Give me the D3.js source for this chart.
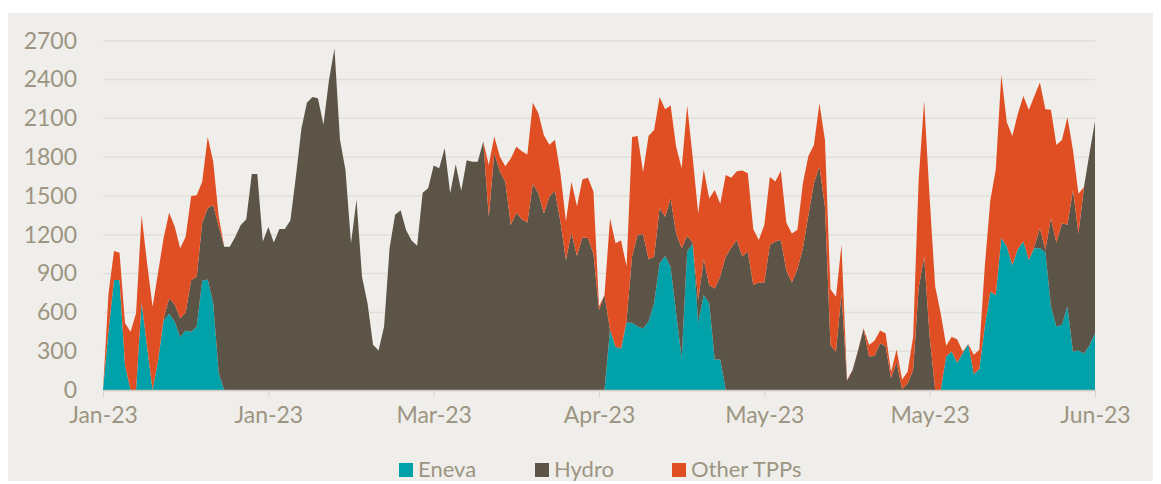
<!DOCTYPE html>
<html>
<head>
<meta charset="utf-8">
<script src="https://cdn.jsdelivr.net/npm/d3@7"></script>
<style>
  html, body { margin: 0; padding: 0; background: #ffffff; }
  svg text { font-family: Lato, "Open Sans", sans-serif; }
</style>
</head>
<body>
<div id="chart"></div>
<script>
// daily values, 1 Jan 2023 .. 30 Jun 2023
var startDate = new Date(2023, 0, 1);

var eneva = [
  0, 460, 850, 850, 190, 0, 0, 680, 335, 0, 230, 535, 590, 530, 410, 460, 450, 490, 845, 855, 670, 130,
  0, 0, 0, 0, 0, 0, 0, 0, 0, 0, 0, 0, 0, 0, 0, 0, 0, 0, 0, 0, 0, 0, 0, 0, 0, 0, 0, 0, 0, 0, 0, 0, 0, 0, 0,
  0, 0, 0, 0, 0, 0, 0, 0, 0, 0, 0, 0, 0, 0, 0, 0, 0, 0, 0, 0, 0, 0, 0, 0, 0, 0, 0, 0, 0, 0, 0, 0, 0, 0, 0,
  465, 335, 320, 520, 520, 490, 475, 530, 670, 980, 1035, 950, 595, 245, 1070, 1130, 520, 735, 670, 235, 235,
  0, 0, 0, 0, 0, 0, 0, 0, 0, 0, 0, 0, 0, 0, 0, 0, 0, 0, 0, 0, 0, 0, 0, 0, 0, 0, 0, 0, 0, 0, 0, 0, 0, 0, 0, 0, 0, 0, 0, 0,
  260, 295, 210, 285, 355, 125, 160, 490, 760, 735, 1175, 1110, 965, 1090, 1147, 1005, 1095, 1095, 1065, 645,
  490, 505, 645, 296, 305, 280, 345, 438
];

var hydro = [
  0, 0, 0, 0, 0, 0, 0, 0, 0, 0, 0,
  20, 120, 130, 145, 140, 400, 385, 445, 550, 760, 1135, 1108, 1108, 1185, 1276, 1319, 1670, 1670, 1147, 1260,
  1140, 1245, 1245, 1310, 1650, 2020, 2220, 2265, 2255, 2050, 2395, 2640, 1935, 1700, 1135, 1470, 875, 670, 350, 305,
  490, 1095, 1355, 1390, 1235, 1155, 1115, 1525, 1560, 1735, 1715, 1870, 1520, 1745, 1540, 1775, 1765, 1765, 1920, 1340,
  1830, 1690, 1610, 1275, 1370, 1320, 1295, 1595, 1520, 1365, 1495, 1540, 1300, 1005, 1215, 1035, 1180, 1175, 1050, 618,
  734,
  0, 0, 0, 20, 511, 708, 730, 480, 360, 425, 305, 530, 615, 850, 120, 10, 175, 275, 140, 550, 645,
  1031, 1100, 1160, 1031, 1070, 812, 830, 830, 1121, 1147, 1160, 922, 830, 933, 1095, 1353, 1598, 1727, 1417, 348,
  296, 747, 72, 150, 304, 469, 258, 263, 361, 340, 90, 219, 5, 52, 155, 789, 1031, 412, 0, 0,
  0, 0, 0, 0, 0, 0, 0, 0, 0, 0, 0, 0, 0, 0, 0, 0,
  15, 155, 17, 683, 649, 784, 632, 1250, 903, 1290, 1485, 1640
];

var otherTpps = [
  0, 285, 225, 210, 325, 451, 593, 670, 645, 644, 680, 620, 660, 605, 540, 585, 650, 630, 320, 550, 335, 75,
  0, 0, 0, 0, 0, 0, 0, 0, 0, 0, 0, 0, 0, 0, 0, 0, 0, 0, 0, 0, 0, 0, 0, 0,
  0, 0, 0, 0, 0, 0, 0, 0, 0, 0, 0, 0, 0, 0, 0, 0, 0, 0, 0, 0, 0, 0, 0, 0,
  400, 130, 115, 120, 515, 510, 525, 525, 625, 620, 605, 400, 395, 375, 300, 395, 385, 450, 465, 483,
  30, 0, 862, 800, 837, 414, 925, 765, 480, 955, 980, 860, 830, 720, 670, 620, 1010, 660, 670, 695,
  670, 760, 560, 630, 540, 530, 665, 605, 430, 330, 445, 525, 465, 535, 370, 380, 305, 505, 455, 295,
  490, 515, 430, 425, 375, 5, 5, 5, 8, 90, 118, 98, 98, 52, 95, 77, 90, 257, 835, 1205,
  1070, 800, 593, 82, 116, 181, 13, 0, 147, 149, 464, 704, 971, 1262, 959, 998, 1046, 1126, 1160, 1163,
  1126, 1088, 838, 755, 644, 832, 309, 309, 0, 0, 0
];

var seriesNames = ["Eneva", "Hydro", "Other TPPs"];
var seriesColors = ["#00a1a9", "#5c5547", "#e04f24"];
var yTicks = [0, 300, 600, 900, 1200, 1500, 1800, 2100, 2400, 2700];
var tickEvery = 30; // days between x labels

var W = 1161, H = 484;
var margin = {left: 103, right: 66, top: 40.7, bottom: 94};
var textColor = "#9d9582";

var rows = eneva.map(function(v, i){
  return {date: d3.timeDay.offset(startDate, i), Eneva: v, Hydro: hydro[i], "Other TPPs": otherTpps[i]};
});

var svg = d3.select("#chart").append("svg")
  .attr("width", W)
  .attr("height", H);

// panel background
svg.append("rect")
  .attr("x", 8).attr("y", 13)
  .attr("width", 1145).attr("height", 468)
  .attr("fill", "#efeeea");

var x = d3.scaleTime()
  .domain([rows[0].date, rows[rows.length-1].date])
  .range([margin.left, W - margin.right]);

var y = d3.scaleLinear()
  .domain([0, 2700])
  .range([H - margin.bottom, margin.top]);

// gridlines
svg.append("g")
  .selectAll("line")
  .data(yTicks.slice(1))
  .enter()
  .append("line")
  .attr("x1", margin.left)
  .attr("x2", W - margin.right)
  .attr("y1", function(d){ return y(d); })
  .attr("y2", function(d){ return y(d); })
  .style("stroke", "#e2dfda")
  .style("stroke-width", "1.5px");

var stack = d3.stack().keys(seriesNames);
var layers = stack(rows);

var area = d3.area()
  .x(function(d){ return x(d.data.date); })
  .y0(function(d){ return y(d[0]); })
  .y1(function(d){ return y(d[1]); });

svg.append("g")
  .selectAll("path")
  .data(layers)
  .enter()
  .append("path")
  .attr("d", area)
  .attr("fill", function(d, i){ return seriesColors[i]; });

// y axis labels
var yAxis = d3.axisLeft(y)
  .tickValues(yTicks)
  .tickFormat(d3.format("d"))
  .tickSize(0)
  .tickPadding(0);

var gy = svg.append("g")
  .attr("transform", "translate(77,0)")
  .call(yAxis);
gy.select(".domain").remove();
gy.selectAll("text")
  .attr("fill", textColor)
  .style("font-size", "23px");

// x axis
var xTickDates = d3.range(0, rows.length, tickEvery).map(function(i){ return rows[i].date; });

var xAxis = d3.axisBottom(x)
  .tickValues(xTickDates)
  .tickFormat(d3.timeFormat("%b-%y"))
  .tickSize(7)
  .tickSizeOuter(0)
  .tickPadding(10);

var gx = svg.append("g")
  .attr("transform", "translate(0," + (H - margin.bottom) + ")")
  .call(xAxis);
gx.select(".domain")
  .attr("stroke", "#cdc8c0")
  .attr("stroke-width", 1.5);
gx.selectAll(".tick line")
  .attr("stroke", "#d6d2cb")
  .attr("stroke-width", 1);
gx.selectAll("text")
  .attr("fill", textColor)
  .style("font-size", "23px");

// legend
var legendX = [399, 535, 672];
var legend = svg.append("g")
  .selectAll("g")
  .data(seriesNames)
  .enter()
  .append("g")
  .attr("transform", function(d, i){ return "translate(" + legendX[i] + ",463)"; });

legend.append("rect")
  .attr("width", 14)
  .attr("height", 14)
  .attr("fill", function(d, i){ return seriesColors[i]; });

legend.append("text")
  .attr("x", 19)
  .attr("y", 14)
  .attr("fill", textColor)
  .style("font-size", "22px")
  .text(function(d){ return d; });
</script>
</body>
</html>
